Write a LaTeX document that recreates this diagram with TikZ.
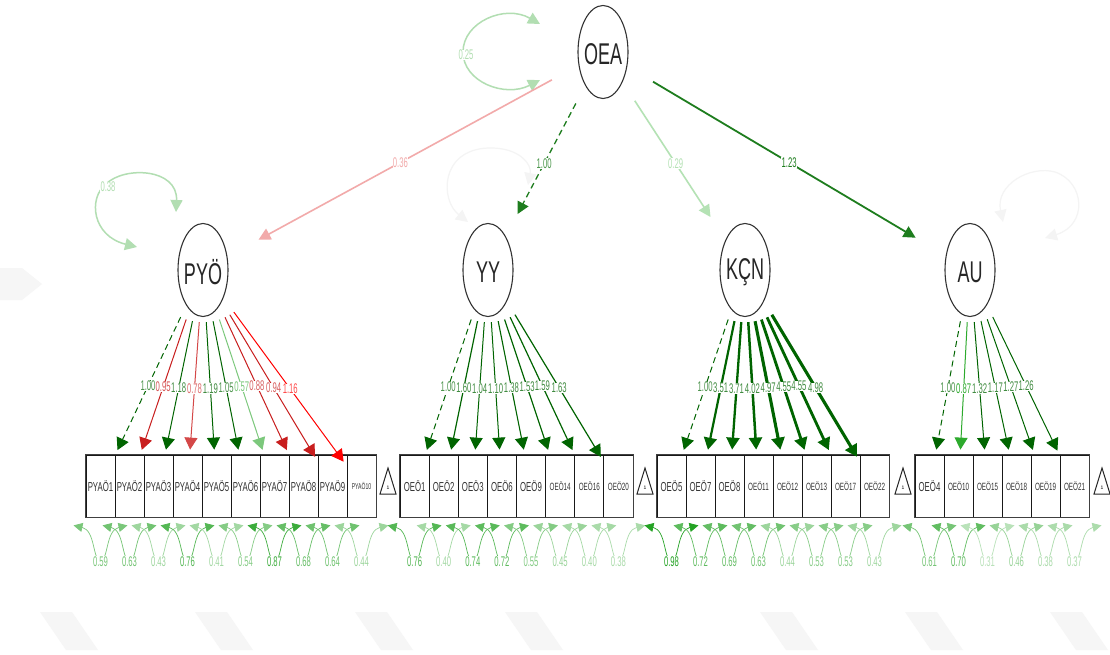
\documentclass[tikz,border=0pt]{standalone}
\usepackage{fontspec}
\usepackage{graphicx}
\setmainfont{Liberation Sans}
\usetikzlibrary{arrows.meta,calc,shapes.geometric}
\definecolor{dg}{RGB}{0,100,0}
\definecolor{lgr}{RGB}{124,200,124}
\definecolor{bgr}{RGB}{45,170,45}
\definecolor{rA}{RGB}{200,30,30}
\definecolor{rB}{RGB}{212,72,72}
\definecolor{rC}{RGB}{255,0,0}
\definecolor{pinkish}{RGB}{242,170,170}
\definecolor{paleg}{RGB}{180,226,180}
\definecolor{midg}{RGB}{30,125,30}
\definecolor{resg}{RGB}{30,160,30}
\definecolor{vline}{RGB}{178,222,178}
\definecolor{faint}{RGB}{244,244,244}
\definecolor{wm}{RGB}{246,246,246}
\newcommand\nm[1]{\scalebox{0.55}[1]{#1}}
\newcommand\sx[2]{\scalebox{#1}[1]{#2}}
\newcommand\LD[4]{\draw[ld,color=#3,#4] (#1) -- coordinate[pos=0.5] (m#2) (#2);}
\newcommand\LL[3]{\node[elab,text=#3] (t#1) at (m#1) {\nm{#2}};}
\newcommand\RL[2]{\draw[rl,color=resg!#2!white] ($(#1.south)+(-27,8)$) .. controls +(22,5) and +(-8,0) .. ($(#1.south)+(0,43)$) .. controls +(8,0) and +(-22,5) .. ($(#1.south)+(27,8)$);}
\newcommand\RLL[3]{\node[elab,text=resg!#3!white] (r#1) at ($(#1.south)+(0,44)$) {\nm{#2}};}
\newcommand\TRI[2]{\draw[line width=1pt,black!85] (#1,468) -- (#1+8,494) -- (#1-8,494) -- cycle; \node[font=\fontsize{5}{5}\selectfont,inner sep=0pt] (#2) at (#1,488) {1};}
\begin{document}
\begin{tikzpicture}[x=1pt,y=-1pt,
  lat/.style={ellipse, draw=black!80, line width=1.1pt, minimum width=50pt, minimum height=93pt, inner sep=0pt},
  latt/.style={font=\fontsize{30}{30}\selectfont, text=black!85, inner sep=0pt},
  anc/.style={circle, inner sep=0pt, minimum size=#1},
  obs/.style={draw=black!90, line width=0.8pt, minimum width=29pt, minimum height=62pt, inner sep=0pt, font=\fontsize{13}{13}\selectfont, text=black!80},
  obss/.style={obs, font=\fontsize{10.5}{10.5}\selectfont},
  ld/.style={-{Triangle[width=13pt,length=12pt]}, shorten >=5pt, line width=1pt},
  dsh/.style={dash pattern=on 6pt off 4pt},
  st/.style={-{Triangle[width=12pt,length=12pt]}, shorten >=11pt},
  elab/.style={fill=white, inner sep=0.3pt, font=\fontsize{14}{14}\selectfont},
  rl/.style={{Triangle[width=9pt,length=9pt]}-{Triangle[width=9pt,length=9pt]}, line width=0.7pt},
  vl/.style={{Triangle[width=12pt,length=12pt]}-{Triangle[width=12pt,length=12pt]}, line width=1.5pt}]
\useasboundingbox[fill=white] (0,0) rectangle (1110,655);
% watermark
\fill[wm] (0,268) -- (22,268) -- (42,284) -- (22,300) -- (0,300) -- cycle;
\foreach \wx in {40,195,355,505,760,905,1050}{\fill[wm] (\wx,612) -- (\wx+32,612) -- (\wx+58,650) -- (\wx+26,650) -- cycle;}
% latent variables
\node[lat] (OEAv) at (603,52) {};
\node[latt] (OEAt) at (603,54) {\sx{0.6}{OEA}};
\node[anc=116pt] (OEA) at (603,52) {};
\node[lat] (PYOv) at (203,270) {};
\node[latt] (PYOt) at (203,272) {\sx{0.6}{PYÖ}};
\node[anc=104pt] (PYO) at (203,270) {};
\node[lat] (YYv) at (488,270) {};
\node[latt] (YYt) at (488,272) {\sx{0.6}{YY}};
\node[anc=104pt] (YY) at (488,270) {};
\node[lat] (KCNv) at (745,270) {};
\node[latt] (KCNt) at (745,272) {\sx{0.6}{KÇN}};
\node[anc=104pt] (KCN) at (745,270) {};
\node[lat] (AUv) at (970,270) {};
\node[latt] (AUt) at (970,272) {\sx{0.6}{AU}};
\node[anc=104pt] (AU) at (970,270) {};
% observed variables
\node[obs] (p1) at (100.5,486) {\sx{0.6}{PYAÖ1}};
\node[obs] (p2) at (129.5,486) {\sx{0.6}{PYAÖ2}};
\node[obs] (p3) at (158.5,486) {\sx{0.6}{PYAÖ3}};
\node[obs] (p4) at (187.5,486) {\sx{0.6}{PYAÖ4}};
\node[obs] (p5) at (216.5,486) {\sx{0.6}{PYAÖ5}};
\node[obs] (p6) at (245.5,486) {\sx{0.6}{PYAÖ6}};
\node[obs] (p7) at (274.5,486) {\sx{0.6}{PYAÖ7}};
\node[obs] (p8) at (303.5,486) {\sx{0.6}{PYAÖ8}};
\node[obs] (p9) at (332.5,486) {\sx{0.6}{PYAÖ9}};
\node[obs, font=\fontsize{8.5}{8.5}\selectfont] (p10) at (361.5,486) {\sx{0.6}{PYAÖ10}};
\node[obs,minimum width=29.125pt] (y1) at (414.6,486) {\sx{0.6}{OEÖ1}};
\node[obs,minimum width=29.125pt] (y2) at (443.7,486) {\sx{0.6}{OEÖ2}};
\node[obs,minimum width=29.125pt] (y3) at (472.8,486) {\sx{0.6}{OEÖ3}};
\node[obs,minimum width=29.125pt] (y4) at (501.9,486) {\sx{0.6}{OEÖ6}};
\node[obs,minimum width=29.125pt] (y5) at (531.0,486) {\sx{0.6}{OEÖ9}};
\node[obss,minimum width=29.125pt] (y6) at (560.2,486) {\sx{0.6}{OEÖ14}};
\node[obss,minimum width=29.125pt] (y7) at (589.3,486) {\sx{0.6}{OEÖ16}};
\node[obss,minimum width=29.125pt] (y8) at (618.4,486) {\sx{0.6}{OEÖ20}};
\node[obs] (k1) at (671.5,486) {\sx{0.6}{OEÖ5}};
\node[obs] (k2) at (700.5,486) {\sx{0.6}{OEÖ7}};
\node[obs] (k3) at (729.5,486) {\sx{0.6}{OEÖ8}};
\node[obss] (k4) at (758.5,486) {\sx{0.6}{OEÖ11}};
\node[obss] (k5) at (787.5,486) {\sx{0.6}{OEÖ12}};
\node[obss] (k6) at (816.5,486) {\sx{0.6}{OEÖ13}};
\node[obss] (k7) at (845.5,486) {\sx{0.6}{OEÖ17}};
\node[obss] (k8) at (874.5,486) {\sx{0.6}{OEÖ22}};
\node[obs] (a1) at (929.5,486) {\sx{0.6}{OEÖ4}};
\node[obss] (a2) at (958.5,486) {\sx{0.6}{OEÖ10}};
\node[obss] (a3) at (987.5,486) {\sx{0.6}{OEÖ15}};
\node[obss] (a4) at (1016.5,486) {\sx{0.6}{OEÖ18}};
\node[obss] (a5) at (1045.5,486) {\sx{0.6}{OEÖ19}};
\node[obss] (a6) at (1074.5,486) {\sx{0.6}{OEÖ21}};
\draw[line width=1.6pt, black!75] (p1.north west) rectangle (p10.south east);
\draw[line width=1.6pt, black!75] (y1.north west) rectangle (y8.south east);
\draw[line width=1.6pt, black!75] (k1.north west) rectangle (k8.south east);
\draw[line width=1.6pt, black!75] (a1.north west) rectangle (a6.south east);
% intercept triangles
\TRI{388}{i1}
\TRI{645}{i2}
\TRI{903}{i3}
\TRI{1102}{i4}
% variance loops of latents
\draw[vl,vline] (540,24) .. controls (505,4) and (463,22) .. (463,52) .. controls (463,82) and (505,98) .. (540,80);
\node[elab,text=vline] (vOEA) at (466,55) {\nm{0.25}};
\draw[vl,vline] (137,247) .. controls (92,236) and (88,198) .. (106,184) .. controls (124,166) and (178,168) .. (176,212);
\node[elab,text=vline] (vPYO) at (108,187) {\nm{0.38}};
\draw[vl,faint,line width=1.2pt] (468,222) .. controls (440,200) and (440,150) .. (488,148) .. controls (520,147) and (532,165) .. (528,185);
\draw[vl,faint,line width=1.2pt] (1003,222) .. controls (995,185) and (1030,165) .. (1055,172) .. controls (1085,182) and (1088,225) .. (1045,238);
% structural paths
\draw[st,pinkish,line width=1.6pt] (OEA) -- coordinate[pos=0.5] (sP) (PYO);
\draw[st,midg,dsh,line width=1.3pt] (OEA) -- coordinate[pos=0.5] (sY) (YY);
\draw[st,paleg,line width=1.6pt] (OEA) -- coordinate[pos=0.5] (sK) (KCN);
\draw[st,midg,line width=1.8pt] (OEA) -- coordinate[pos=0.5] (sA) (AU);
\node[elab,text=pinkish] (lsP) at (sP) {\nm{0.36}};
\node[elab,text=midg!80] (lsY) at (sY) {\nm{1.00}};
\node[elab,text=paleg] (lsK) at (sK) {\nm{0.29}};
\node[elab,text=midg] (lsA) at (sA) {\nm{1.23}};
% loadings PYO
\LD{PYO}{p1}{dg}{dsh}
\LD{PYO}{p2}{rA}{}
\LD{PYO}{p3}{dg}{}
\LD{PYO}{p4}{rB}{}
\LD{PYO}{p5}{dg}{}
\LD{PYO}{p6}{dg}{}
\LD{PYO}{p7}{lgr}{}
\LD{PYO}{p8}{rA}{}
\LD{PYO}{p9}{rA}{}
\LD{PYO}{p10}{rC}{}
% loadings YY
\LD{YY}{y1}{dg}{dsh}
\LD{YY}{y2}{dg}{line width=1.2pt}
\LD{YY}{y3}{dg}{}
\LD{YY}{y4}{dg}{}
\LD{YY}{y5}{dg}{line width=1.1pt}
\LD{YY}{y6}{dg}{line width=1.2pt}
\LD{YY}{y7}{dg}{line width=1.2pt}
\LD{YY}{y8}{dg}{line width=1.2pt}
% loadings KCN
\LD{KCN}{k1}{dg}{dsh}
\LD{KCN}{k2}{dg}{line width=2.2pt}
\LD{KCN}{k3}{dg}{line width=2.3pt}
\LD{KCN}{k4}{dg}{line width=2.5pt}
\LD{KCN}{k5}{dg}{line width=3.1pt}
\LD{KCN}{k6}{dg}{line width=2.8pt}
\LD{KCN}{k7}{dg}{line width=2.8pt}
\LD{KCN}{k8}{dg}{line width=3.1pt}
% loadings AU
\LD{AU}{a1}{dg}{dsh}
\LD{AU}{a2}{bgr}{}
\LD{AU}{a3}{dg}{}
\LD{AU}{a4}{dg}{}
\LD{AU}{a5}{dg}{}
\LD{AU}{a6}{dg}{}
% loading labels
\LL{p1}{1.00}{dg!70}
\LL{p2}{0.95}{rA!75}
\LL{p3}{1.18}{dg!75}
\LL{p4}{0.78}{rB!80}
\LL{p5}{1.19}{dg!75}
\LL{p6}{1.05}{dg!70}
\LL{p7}{0.57}{lgr}
\LL{p8}{0.88}{rA!70}
\LL{p9}{0.94}{rA!70}
\LL{p10}{1.16}{rC!70}
\LL{y1}{1.00}{dg!70}
\LL{y2}{1.60}{dg!75}
\LL{y3}{1.04}{dg!75}
\LL{y4}{1.10}{dg!75}
\LL{y5}{1.38}{dg!75}
\LL{y6}{1.53}{dg!75}
\LL{y7}{1.59}{dg!75}
\LL{y8}{1.63}{dg!75}
\LL{k1}{1.00}{dg!70}
\LL{k2}{3.51}{dg!75}
\LL{k3}{3.71}{dg!75}
\LL{k4}{4.02}{dg!75}
\LL{k5}{4.97}{dg!75}
\LL{k6}{4.55}{dg!75}
\LL{k7}{4.55}{dg!75}
\LL{k8}{4.98}{dg!75}
\LL{a1}{1.00}{dg!70}
\LL{a2}{0.87}{bgr}
\LL{a3}{1.32}{dg!75}
\LL{a4}{1.17}{dg!75}
\LL{a5}{1.27}{dg!75}
\LL{a6}{1.26}{dg!75}
% residual loops
\RL{p1}{59}\RL{p2}{63}\RL{p3}{43}\RL{p4}{76}\RL{p5}{41}\RL{p6}{54}\RL{p7}{87}\RL{p8}{68}\RL{p9}{64}\RL{p10}{44}
\RL{y1}{76}\RL{y2}{40}\RL{y3}{74}\RL{y4}{72}\RL{y5}{55}\RL{y6}{45}\RL{y7}{40}\RL{y8}{38}
\RL{k1}{98}\RL{k2}{72}\RL{k3}{69}\RL{k4}{63}\RL{k5}{44}\RL{k6}{53}\RL{k7}{53}\RL{k8}{43}
\RL{a1}{61}\RL{a2}{70}\RL{a3}{31}\RL{a4}{46}\RL{a5}{38}\RL{a6}{37}
\RLL{p1}{0.59}{59}\RLL{p2}{0.63}{63}\RLL{p3}{0.43}{43}\RLL{p4}{0.76}{76}\RLL{p5}{0.41}{41}\RLL{p6}{0.54}{54}\RLL{p7}{0.87}{87}\RLL{p8}{0.68}{68}\RLL{p9}{0.64}{64}\RLL{p10}{0.44}{44}
\RLL{y1}{0.76}{76}\RLL{y2}{0.40}{40}\RLL{y3}{0.74}{74}\RLL{y4}{0.72}{72}\RLL{y5}{0.55}{55}\RLL{y6}{0.45}{45}\RLL{y7}{0.40}{40}\RLL{y8}{0.38}{38}
\RLL{k1}{0.98}{98}\RLL{k2}{0.72}{72}\RLL{k3}{0.69}{69}\RLL{k4}{0.63}{63}\RLL{k5}{0.44}{44}\RLL{k6}{0.53}{53}\RLL{k7}{0.53}{53}\RLL{k8}{0.43}{43}
\RLL{a1}{0.61}{61}\RLL{a2}{0.70}{70}\RLL{a3}{0.31}{31}\RLL{a4}{0.46}{46}\RLL{a5}{0.38}{38}\RLL{a6}{0.37}{37}
\end{tikzpicture}
\end{document}
